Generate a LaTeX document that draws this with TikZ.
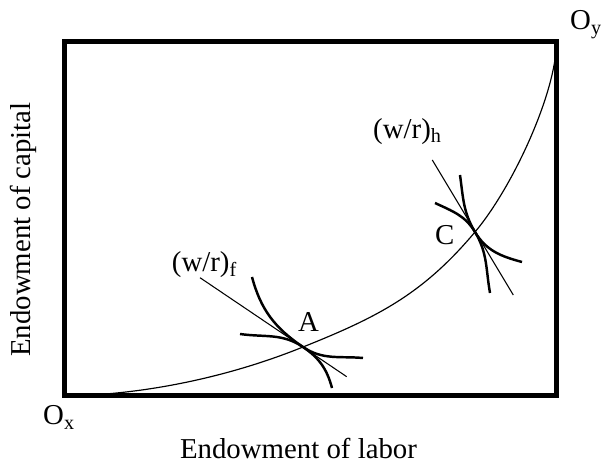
\documentclass[tikz,border=0pt]{standalone}
\usepackage{fontspec}
\setmainfont{Liberation Serif}
\usepackage{tikz}

\begin{document}
\begin{tikzpicture}[x=0.03cm,y=0.03cm,
  every node/.style={font=\fontsize{24.6}{28}\selectfont,inner sep=0pt},
  frame/.style={line width=0.15cm},
  contract/.style={line width=1pt},
  budget/.style={line width=0.9pt},
  isoquant/.style={line width=2.1pt}]
\useasboundingbox (0,0) rectangle (607,466);
  \coordinate (Ox) at (64,70); \coordinate (Oy) at (556.5,424.5);
  \coordinate (A) at (303,119); \coordinate (C) at (475,234);
  \draw[frame] (Ox) rectangle (Oy);
  \draw[contract] (Ox) .. controls (144,71) and (229,89) .. (A)
    .. controls (378,149) and (423,172) .. (C)
    .. controls (513.6,280) and (556.5,374.5) .. (Oy);
  \coordinate (f1) at (200,188.3); \coordinate (f2) at (346.7,89.3);
  \coordinate (h1) at (432.3,306); \coordinate (h2) at (513.3,171);
  \draw[budget] (f1)--(f2) (h1)--(h2);
  \coordinate (xa1) at (252,189); \coordinate (xa2) at (363,108);
  \coordinate (ya1) at (240,132); \coordinate (ya2) at (332,78);
  \coordinate (xc1) at (460,291); \coordinate (xc2) at (522,204);
  \coordinate (yc1) at (435,263); \coordinate (yc2) at (490,173);
  \draw[isoquant] (xa1) to[out=-75,in=146] (A) to[out=-34,in=175] (xa2);
  \draw[isoquant] (ya1) to[out=-8,in=146] (A) to[out=-34,in=105] (ya2);
  \draw[isoquant] (xc1) to[out=-82,in=121] (C) to[out=-59,in=165] (xc2);
  \draw[isoquant] (yc1) to[out=-25,in=121] (C) to[out=-59,in=100] (yc2);
  \node[anchor=base west] (labA) at (298,134) {A};
  \node[anchor=base west] (labC) at (435,221) {C};
  \node[anchor=base west] (labf) at (171.7,194.3) {(w/r)\textsubscript{f}};
  \node[anchor=base west] (labh) at (373,327.7) {(w/r)\textsubscript{h}};
  \node[anchor=base west] (labOx) at (43,41) {O\textsubscript{x}};
  \node[anchor=base west] (labOy) at (570,436) {O\textsubscript{y}};
  \node (xlab) at (298.5,17.5) {Endowment of labor};
  \node[rotate=90] (ylab) at (23,236.5) {Endowment of capital};
\end{tikzpicture}
\end{document}
